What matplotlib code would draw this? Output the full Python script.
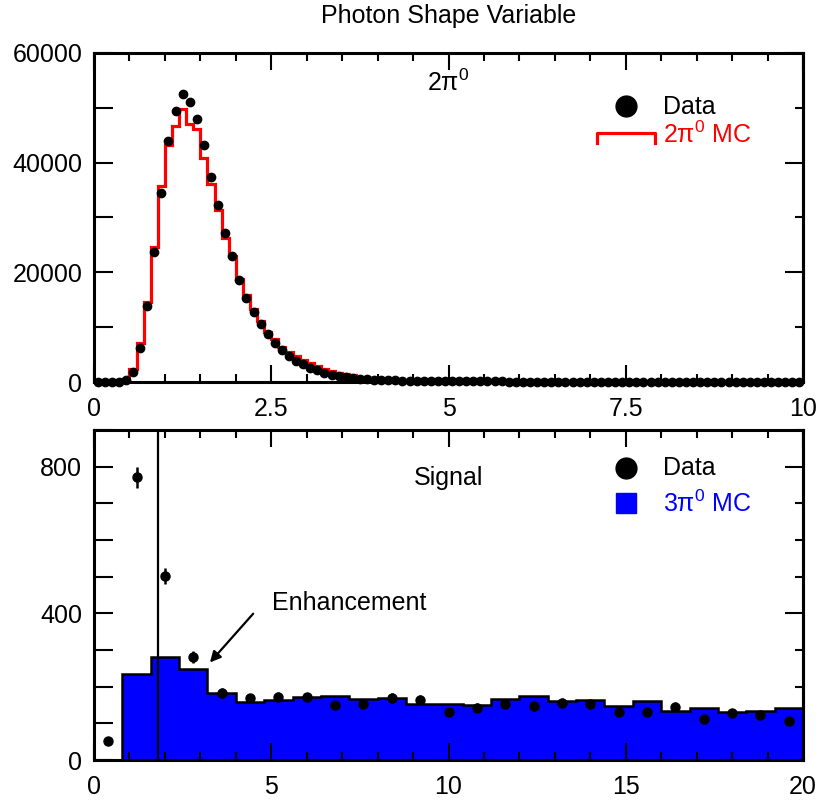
import numpy as np
import matplotlib
matplotlib.use('Agg')
import matplotlib.pyplot as plt
from matplotlib.ticker import MultipleLocator, FuncFormatter

plt.rcParams['font.family'] = ['Liberation Sans', 'DejaVu Sans']
plt.rcParams['mathtext.fontset'] = 'custom'
plt.rcParams['mathtext.rm'] = 'Liberation Sans'
plt.rcParams['mathtext.it'] = 'Liberation Sans:italic'

# ---------------- data: top panel (2pi0 sample), bins of 0.1 from 0 to 10
top_edges = np.linspace(0, 10, 101)
top_mc = [0, 0, 0, 0, 500, 2300, 7200, 14600, 24600, 35700,
          43300, 46600, 49700, 47000, 46100, 40900, 36200, 31400, 26300, 22900,
          18700, 15900, 13400, 11200, 9100, 7900, 6400, 5400, 4750, 4000,
          3400, 2900, 2450, 2000, 1700, 1460, 1280, 1000, 800, 680,
          420, 380, 350, 320, 300, 285, 270, 255, 245, 235,
          225, 215, 210, 200, 195, 190, 185, 180, 175, 170,
          165, 160, 158, 152, 148, 145, 140, 138, 134, 130,
          128, 125, 122, 120, 118, 115, 112, 110, 108, 106,
          104, 102, 100, 98, 96, 95, 93, 92, 90, 88,
          87, 86, 85, 84, 83, 82, 81, 80, 79, 78]
top_data = [0, 0, 0, 0, 300, 1800, 6200, 13800, 23700, 34500,
            43900, 49400, 52600, 51100, 47900, 43200, 37300, 32300, 27200, 22900,
            18600, 15300, 12800, 10500, 8700, 7200, 5900, 4750, 3850, 3200,
            2600, 2150, 1700, 1350, 1100, 900, 750, 620, 520, 440,
            370, 320, 280, 250, 220, 200, 180, 165, 150, 140,
            130, 122, 115, 110, 104, 100, 96, 92, 88, 85,
            82, 80, 78, 75, 73, 71, 69, 67, 66, 64,
            63, 62, 60, 59, 58, 57, 56, 55, 54, 53,
            52, 51, 50, 50, 49, 48, 47, 47, 46, 45,
            45, 44, 44, 43, 43, 42, 42, 41, 41, 40]

# ---------------- data: bottom panel (signal sample), bins of 0.8 from 0 to 20
bot_edges = np.linspace(0, 20, 26)
bot_mc = [0, 234, 281, 247, 183, 157, 165, 172, 174, 167,
          168, 153, 152, 149, 166, 174, 160, 163, 147, 161,
          133, 142, 131, 134, 142]
bot_data = [52, 771, 501, 281, 183, 168, 172, 171, 149, 154,
            169, 163, 130, 143, 154, 147, 156, 152, 130, 131,
            145, 112, 127, 124, 107]
bot_err = [7, 28, 22, 17, 14, 13, 13, 13, 12, 12,
           13, 13, 11, 12, 12, 12, 12, 12, 11, 11,
           12, 11, 11, 11, 10]
cut_value = 1.8

top_xticks = [0, 2.5, 5, 7.5, 10]
top_xticklabels = ['0', '2.5', '5', '7.5', '10']
bot_xticks = [0, 5, 10, 15, 20]

FS = 18

fig = plt.figure(figsize=(8.22, 8.07), dpi=100)
ax1 = fig.add_axes([94/822, 1-382/807, 709/822, 329/807])
ax2 = fig.add_axes([94/822, 1-760/807, 709/822, 330/807])

# ---- top panel
top_centers = 0.5 * (top_edges[:-1] + top_edges[1:])
ax1.stairs(top_mc, top_edges, color='#ff0000', lw=2.3, baseline=None, zorder=2)
ax1.plot(top_centers, top_data, 'o', color='black', ms=6, clip_on=False, zorder=3)
ax1.set_xlim(0, 10)
ax1.set_ylim(0, 60000)

ax1.text(5.0, 54500, '2π$^{0}$', fontsize=FS, ha='center', va='center')

# legend (top)
ax1.plot([0.75], [0.838], 'o', color='black', ms=15, transform=ax1.transAxes, clip_on=False)
ax1.text(0.8025, 0.836, 'Data', fontsize=FS, transform=ax1.transAxes, va='center', ha='left')
ax1.plot([0.709, 0.709, 0.791, 0.791], [0.727, 0.757, 0.757, 0.727], color='#ff0000',
         lw=2.3, transform=ax1.transAxes, clip_on=False)
ax1.text(0.8025, 0.752, '2π$^{0}$ MC', fontsize=FS, color='#ff0000',
         transform=ax1.transAxes, va='center', ha='left')

# ---- bottom panel
bot_centers = 0.5 * (bot_edges[:-1] + bot_edges[1:])
ax2.stairs(bot_mc, bot_edges, fill=True, color='#0000ff', zorder=1)
ax2.stairs(bot_mc, bot_edges, color='black', lw=1.8, baseline=None, zorder=1.5)
ax2.errorbar(bot_centers, bot_data, yerr=bot_err, fmt='o', color='black', ms=6.5,
             elinewidth=1.8, capsize=0, zorder=3, clip_on=False)
ax2.axvline(cut_value, color='black', lw=1.6, zorder=2)
ax2.set_xlim(0, 20)
ax2.set_ylim(0, 900)

ax2.text(10.0, 770, 'Signal', fontsize=FS, ha='center', va='center')
ax2.text(5.02, 428, 'Enhancement', fontsize=FS, ha='left', va='center')
ax2.annotate('', xy=(3.27, 266), xytext=(4.49, 399),
             arrowprops=dict(arrowstyle='-|>', color='black', lw=1.6, mutation_scale=16,
                             shrinkA=0, shrinkB=0))

# legend (bottom)
ax2.plot([0.75], [0.886], 'o', color='black', ms=15, transform=ax2.transAxes, clip_on=False)
ax2.text(0.8025, 0.884, 'Data', fontsize=FS, transform=ax2.transAxes, va='center', ha='left')
ax2.plot([0.75], [0.78], 's', color='#0000ff', ms=14.5, transform=ax2.transAxes, clip_on=False)
ax2.text(0.8025, 0.776, '3π$^{0}$ MC', fontsize=FS, color='#0000ff',
         transform=ax2.transAxes, va='center', ha='left')


# ---- axes styling
def style(ax, xmin, ymaj_left, yright_maj, xticks, xlabels, fmt_y):
    for s in ax.spines.values():
        s.set_linewidth(2.2)
    ax.set_xticks(xticks)
    ax.set_xticklabels(xlabels)
    ax.xaxis.set_minor_locator(MultipleLocator(xmin))
    ax.tick_params(axis='x', which='major', direction='in', length=12.5, width=1.5,
                   top=True, bottom=True, labelsize=FS, pad=10.5)
    ax.tick_params(axis='x', which='minor', direction='in', length=6, width=1.5,
                   top=True, bottom=True)
    ax.yaxis.set_major_locator(MultipleLocator(ymaj_left))
    ax.yaxis.set_major_formatter(FuncFormatter(fmt_y))
    ax.tick_params(axis='y', which='major', direction='in', length=13.5, width=1.5,
                   left=True, right=False, labelsize=FS, pad=8.5)
    ax.tick_params(axis='y', which='minor', left=False, right=False)
    sec = ax.secondary_yaxis('right')
    sec.yaxis.set_major_locator(MultipleLocator(yright_maj))
    sec.yaxis.set_minor_locator(MultipleLocator(ymaj_left))
    sec.tick_params(axis='y', which='major', direction='in', length=13, width=1.5,
                    labelright=False)
    sec.tick_params(axis='y', which='minor', direction='in', length=6, width=1.5)
    sec.spines['right'].set_linewidth(2.2)


def fmt_top(v, pos):
    return '%d' % v if int(round(v)) % 20000 == 0 else ''


def fmt_bot(v, pos):
    return '%d' % v if int(round(v)) % 400 == 0 else ''


style(ax1, 0.5, 10000, 20000, top_xticks, top_xticklabels, fmt_top)
style(ax2, 1, 100, 400, bot_xticks, [str(v) for v in bot_xticks], fmt_bot)

fig.text(448.5/822, 1-16/807, 'Photon Shape Variable', fontsize=FS, ha='center', va='center')

fig.savefig('out.png', dpi=100)
